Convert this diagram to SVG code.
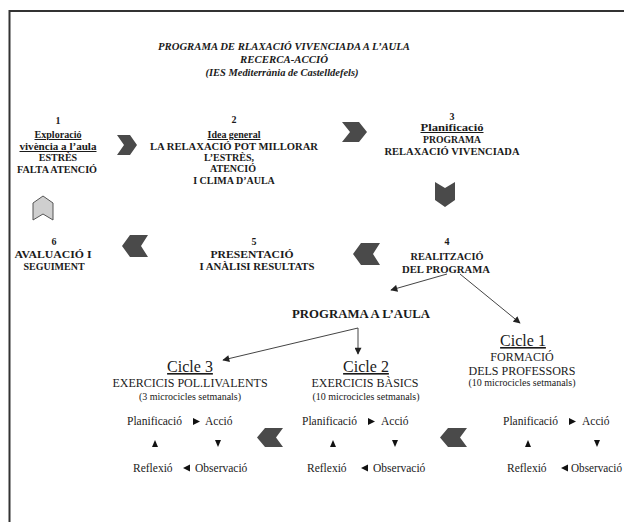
<svg xmlns="http://www.w3.org/2000/svg" width="624" height="522" viewBox="0 0 624 522" font-family="'Liberation Serif', 'DejaVu Serif', serif">
<style>
text{font-family:'Liberation Serif','DejaVu Serif',serif;fill:#1a1a1a;text-anchor:middle}
.t{font-size:10.3px;font-weight:bold;font-style:italic}
.b{font-size:10px;font-weight:bold}
.u{text-decoration:underline}
.cy{font-size:16px;text-decoration:underline}
.cs{font-size:12px}
.sm{font-size:10px}
.p{font-size:11.5px;text-anchor:start}
.chev{fill:#4a4a4a}
.chevl{fill:#cfcfcf;stroke:#555;stroke-width:1}
.tri{fill:#111}
.con{stroke:#444;stroke-width:1;fill:none}
</style>
<defs>
<marker id="ah" viewBox="0 0 10 10" refX="9" refY="5" markerWidth="8" markerHeight="7" markerUnits="userSpaceOnUse" orient="auto">
<path d="M0,0 L10,5 L0,10 z" fill="#222"/>
</marker>
</defs>
<rect x="0" y="0" width="624" height="522" fill="#fff"/>
<path d="M9.5,522 V11 H624" fill="none" stroke="#333" stroke-width="2"/>

<g id="title">
<text class="t" x="284" y="50" textLength="252" lengthAdjust="spacingAndGlyphs">PROGRAMA DE RLAXACIÓ VIVENCIADA A L’AULA</text>
<text class="t" x="284" y="63" textLength="88" lengthAdjust="spacingAndGlyphs">RECERCA-ACCIÓ</text>
<text class="t" x="282" y="76" textLength="153" lengthAdjust="spacingAndGlyphs">(IES Mediterrània de Castelldefels)</text>
</g>

<g id="node1">
<text class="b" x="58" y="124">1</text>
<text class="b u" x="58" y="138" textLength="47" lengthAdjust="spacingAndGlyphs">Exploració</text>
<text class="b u" x="58" y="150" textLength="77" lengthAdjust="spacingAndGlyphs">vivència a l’aula</text>
<text class="b" x="58" y="161">ESTRÈS</text>
<text class="b" x="57" y="173" textLength="80" lengthAdjust="spacingAndGlyphs">FALTA ATENCIÓ</text>
</g>
<g id="node2">
<text class="b" x="234" y="123">2</text>
<text class="b u" x="234" y="138" textLength="53" lengthAdjust="spacingAndGlyphs">Idea general</text>
<text class="b" x="234" y="150" textLength="168" lengthAdjust="spacingAndGlyphs">LA RELAXACIÓ POT MILLORAR</text>
<text class="b" x="229" y="161">L’ESTRÈS,</text>
<text class="b" x="233" y="172">ATENCIÓ</text>
<text class="b" x="234" y="184">I CLIMA D’AULA</text>
</g>
<g id="node3">
<text class="b" x="452" y="120">3</text>
<text class="b u" x="452" y="131" textLength="63" lengthAdjust="spacingAndGlyphs">Planificació</text>
<text class="b" x="452" y="143" textLength="58" lengthAdjust="spacingAndGlyphs">PROGRAMA</text>
<text class="b" x="452" y="155" textLength="135" lengthAdjust="spacingAndGlyphs">RELAXACIÓ VIVENCIADA</text>
</g>
<g id="node4">
<text class="b" x="447" y="245">4</text>
<text class="b" x="447" y="260" textLength="73" lengthAdjust="spacingAndGlyphs">REALITZACIÓ</text>
<text class="b" x="446" y="273" textLength="88" lengthAdjust="spacingAndGlyphs">DEL PROGRAMA</text>
</g>
<g id="node5">
<text class="b" x="254" y="245">5</text>
<text class="b" x="252" y="258" textLength="83" lengthAdjust="spacingAndGlyphs">PRESENTACIÓ</text>
<text class="b" x="257" y="270" textLength="115" lengthAdjust="spacingAndGlyphs">I ANÀLISI RESULTATS</text>
</g>
<g id="node6">
<text class="b" x="54" y="245">6</text>
<text class="b" x="53" y="258" textLength="77" lengthAdjust="spacingAndGlyphs">AVALUACIÓ I</text>
<text class="b" x="54" y="270">SEGUIMENT</text>
</g>

<g id="chevrons">
<polygon class="chev" points="117,135 130,135 137,145 130,155 117,155 124,145"/>
<polygon class="chev" points="342,122 359,122 367,132 359,142 342,142 350,132"/>
<polygon class="chev" points="435,182 445,188 455,182 455,200 445,207 435,200"/>
<polygon class="chev" points="380,243 361,243 353,254 361,265 380,265 373,254"/>
<polygon class="chev" points="148,235 130,235 122,246 130,257 148,257 141,246"/>
<polygon class="chevl" points="33,203 43,196 53,203 53,220 43,214 33,220"/>
<polygon class="chev" points="283,428 265,428 257,437.5 265,447 283,447 276,437.5"/>
<polygon class="chev" points="467,428 448,428 440,437.5 448,447 467,447 460,437.5"/>
</g>

<g id="programa">
<text class="b" style="font-size:11.5px" x="361" y="318" textLength="138" lengthAdjust="spacingAndGlyphs">PROGRAMA A L’AULA</text>
</g>

<g id="cicle1">
<text class="cy" x="523" y="346">Cicle 1</text>
<text class="cs" x="522" y="361">FORMACIÓ</text>
<text class="cs" x="522" y="375">DELS PROFESSORS</text>
<text class="sm" x="522" y="386">(10 microcicles setmanals)</text>
</g>
<g id="cicle2">
<text class="cy" x="366" y="372">Cicle 2</text>
<text class="cs" x="365" y="387">EXERCICIS BÀSICS</text>
<text class="sm" x="366" y="400">(10 microcicles setmanals)</text>
</g>
<g id="cicle3">
<text class="cy" x="190" y="372">Cicle 3</text>
<text class="cs" x="190" y="387">EXERCICIS POL.LIVALENTS</text>
<text class="sm" x="190" y="400">(3 microcicles setmanals)</text>
</g>

<g id="cycle3">
<text class="p" x="127" y="425">Planificació</text>
<polygon class="tri" points="193,418 200,421.5 193,425"/>
<text class="p" x="205" y="425">Acció</text>
<polygon class="tri" points="152,447 155,440 158,447"/>
<polygon class="tri" points="215,440 221,440 218,447"/>
<text class="p" x="133" y="472">Reflexió</text>
<polygon class="tri" points="190,464.5 183,468 190,471.5"/>
<text class="p" x="195" y="472">Observació</text>
</g>
<g id="cycle2">
<text class="p" x="302" y="425">Planificació</text>
<polygon class="tri" points="368,418 375,421.5 368,425"/>
<text class="p" x="381" y="425">Acció</text>
<polygon class="tri" points="330,447 333,440 336,447"/>
<polygon class="tri" points="392,440 398,440 395,447"/>
<text class="p" x="307" y="472">Reflexió</text>
<polygon class="tri" points="368,464.5 361,468 368,471.5"/>
<text class="p" x="373" y="472">Observació</text>
</g>
<g id="cycle1">
<text class="p" x="503" y="425">Planificació</text>
<polygon class="tri" points="569,418 576,421.5 569,425"/>
<text class="p" x="582" y="425">Acció</text>
<polygon class="tri" points="525,447 528,440 531,447"/>
<polygon class="tri" points="594,440 600,440 597,447"/>
<text class="p" x="507" y="472">Reflexió</text>
<polygon class="tri" points="568,464.5 561,468 568,471.5"/>
<text class="p" x="571" y="472" textLength="51" lengthAdjust="spacingAndGlyphs">Observació</text>
</g>

<g id="connectors">
<line class="con" x1="447" y1="274" x2="391" y2="290" marker-end="url(#ah)"/>
<line class="con" x1="460" y1="274" x2="520" y2="323" marker-end="url(#ah)"/>
<line class="con" x1="358" y1="328" x2="223" y2="360" marker-end="url(#ah)"/>
<line class="con" x1="358" y1="328" x2="358" y2="354" marker-end="url(#ah)"/>
</g>
</svg>
